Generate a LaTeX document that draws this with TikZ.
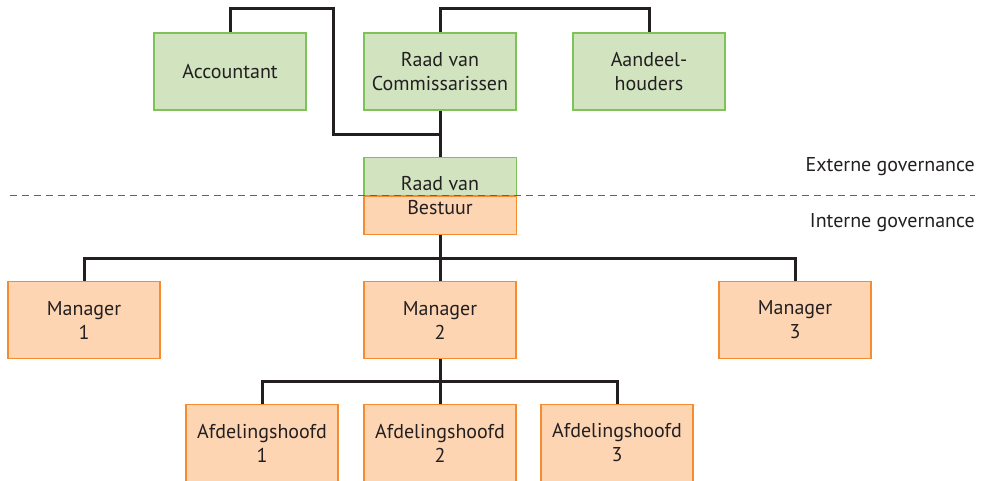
\documentclass[tikz,border=0pt]{standalone}
\usepackage{fontspec}
\setmainfont{PT Sans}
\usepackage{tikz}
\usetikzlibrary{positioning,calc}
\definecolor{leaf}{HTML}{D1E3BF}
\definecolor{leafline}{HTML}{7FC25A}
\definecolor{peach}{HTML}{FDD5B3}
\definecolor{peachline}{HTML}{F68B30}
\definecolor{ink}{HTML}{231F20}
\colorlet{ext}{leaf}
\colorlet{int}{peach}

\begin{document}
\begin{tikzpicture}[x=1pt,y=-1pt,
    font=\fontsize{20}{24}\selectfont,text=ink,
    unit/.style={minimum width=152pt,minimum height=77pt,inner sep=0pt,align=center},
    extbox/.style={unit,fill=ext,draw=leafline,line width=1.4pt},
    intbox/.style={unit,fill=int,draw=peachline,line width=1.4pt},
    link/.style={ink,line width=3pt}]
    \useasboundingbox (0,0) rectangle (985,481);

    % externe governance
    \node[extbox] (acc) at (230,71.5) {Accountant};
    \node[extbox] (rvc) at (440,71.5) {Raad van\\Commissarissen};
    \node[extbox] (aandeel) at (649,71.5) {Aandeel-\\houders};

    % raad van bestuur, half extern half intern
    \node[unit] (rvb) at (440,196) {};
    \draw[fill=ext,draw=leafline,line width=1.4pt] (rvb.north west) rectangle (rvb.east);
    \draw[fill=int,draw=peachline,line width=1.4pt] (rvb.west) rectangle (rvb.south east);
    \node[align=center] at (rvb) {Raad van\\Bestuur};

    % interne governance
    \node[intbox] (man1) at (84,320) {Manager\\1};
    \node[intbox] (man2) at (440,320) {Manager\\2};
    \node[intbox] (man3) at (795,320) {Manager\\3};
    \node[intbox] (afd1) at (262,443) {Afdelingshoofd\\1};
    \node[intbox] (afd2) at (440,443) {Afdelingshoofd\\2};
    \node[intbox] (afd3) at (617,443) {Afdelingshoofd\\3};

    \coordinate (joint) at (440,135);
    \coordinate (accbend) at (333,135);
    \draw[link] (acc.north) -- ++(0,-24) -| (accbend) -- (joint);
    \draw[link] (rvc.north) -- ++(0,-24) -| (aandeel.north);
    \draw[link] (rvc.south) -- (rvb.north);

    \draw[link] (rvb.south) -- ++(0,24) coordinate (split1);
    \draw[link] (man1.north) |- (split1) -| (man3.north);
    \draw[link] (split1) -- (man2.north);

    \draw[link] (man2.south) -- ++(0,22) coordinate (split2);
    \draw[link] (afd1.north) |- (split2) -| (afd3.north);
    \draw[link] (split2) -- (afd2.north);

    \draw[ink!70,line width=1pt,dash pattern=on 7pt off 5pt] (10,196) -- (975,196);
    \node[anchor=east,inner sep=0pt] (extlabel) at (975,167) {Externe governance};
    \node[anchor=east,inner sep=0pt] (intlabel) at (975,223) {Interne governance};
\end{tikzpicture}
\end{document}
